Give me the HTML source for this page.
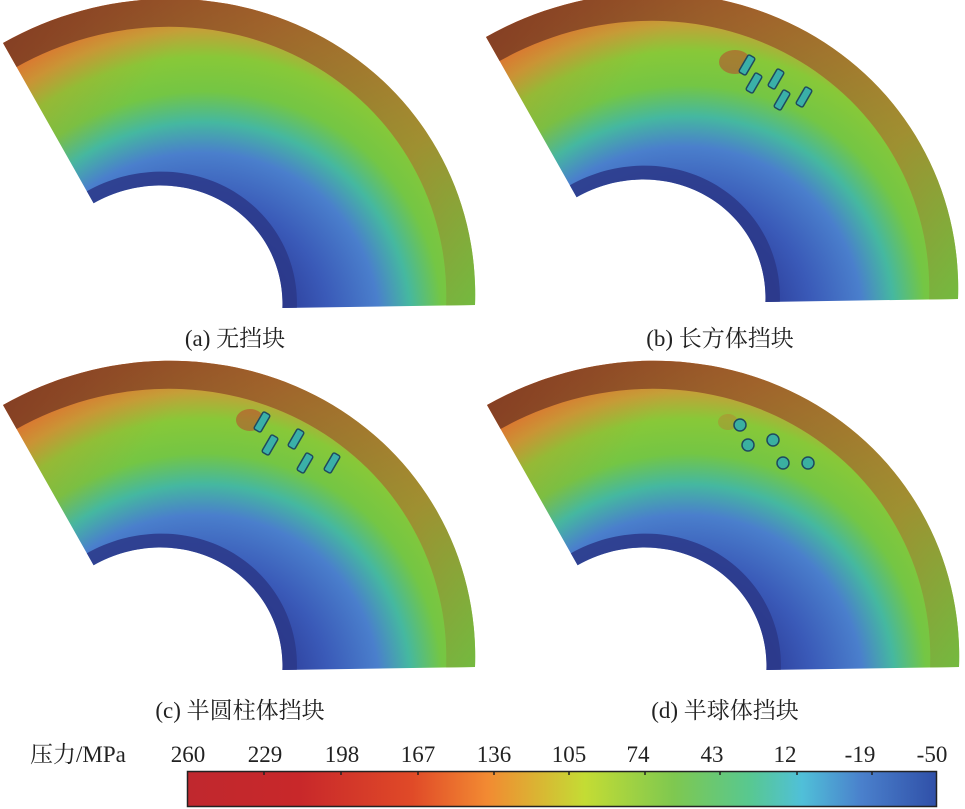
<!DOCTYPE html>
<html><head><meta charset="utf-8"><style>
body{margin:0;background:#fff;}
svg{display:block;}
text{font-family:"Liberation Serif","Noto Serif CJK SC",serif;fill:#222;}
</style></head><body>
<svg width="965" height="809" viewBox="0 0 965 809" xmlns="http://www.w3.org/2000/svg">
<defs>
<radialGradient id="rg" gradientUnits="userSpaceOnUse" cx="0.12" cy="0.08" r="1.1">
<stop offset="0.25" stop-color="#2c3c98"/>
<stop offset="0.39" stop-color="#3a5ab8"/>
<stop offset="0.53" stop-color="#4a7fcc"/>
<stop offset="0.62" stop-color="#45b8a0"/>
<stop offset="0.71" stop-color="#74c644"/>
<stop offset="0.81" stop-color="#88c838"/>
<stop offset="0.89" stop-color="#c4a038"/>
<stop offset="0.98" stop-color="#e07030"/>
</radialGradient>
<linearGradient id="lg" gradientUnits="userSpaceOnUse" x1="-0.6" y1="-0.9" x2="0.5" y2="-0.1">
<stop offset="0" stop-color="#e85a28" stop-opacity="0.35"/>
<stop offset="0.4" stop-color="#e85a28" stop-opacity="0"/>
</linearGradient>
<linearGradient id="band" gradientUnits="userSpaceOnUse" x1="-0.5" y1="-0.9" x2="1" y2="0">
<stop offset="0" stop-color="#7a3a22"/>
<stop offset="0.4" stop-color="#9a5e2a"/>
<stop offset="0.75" stop-color="#a08a30"/>
<stop offset="1" stop-color="#72b840"/>
</linearGradient>
<linearGradient id="cb" x1="0" y1="0" x2="1" y2="0">
<stop offset="0" stop-color="#c0282e"/>
<stop offset="0.15" stop-color="#c8282a"/>
<stop offset="0.3" stop-color="#e04a28"/>
<stop offset="0.4" stop-color="#f28a32"/>
<stop offset="0.53" stop-color="#c4dc34"/>
<stop offset="0.65" stop-color="#7ec850"/>
<stop offset="0.75" stop-color="#58c890"/>
<stop offset="0.82" stop-color="#50c0d8"/>
<stop offset="0.9" stop-color="#4a80cc"/>
<stop offset="1" stop-color="#3050a8"/>
</linearGradient>
<g id="panel" transform="matrix(321,-5,-10.97,311.2,154,310)">
<path d="M1,0 A1,1 0 0 0 -0.5,-0.866 L-0.2,-0.3464 A0.4,0.4 0 0 1 0.4,0 Z" fill="url(#rg)"/>
<path d="M1,0 A1,1 0 0 0 -0.5,-0.866 L-0.2,-0.3464 A0.4,0.4 0 0 1 0.4,0 Z" fill="url(#lg)"/>
<path d="M1,0 A1,1 0 0 0 -0.5,-0.866 L-0.455,-0.788 A0.91,0.91 0 0 1 0.91,0 Z" fill="url(#band)" opacity="0.9"/>
<path d="M0.445,0 A0.445,0.445 0 0 0 -0.2225,-0.385 L-0.2,-0.3464 A0.4,0.4 0 0 1 0.4,0 Z" fill="#2c3888" opacity="0.85"/>
</g>
<g id="blk"><rect x="-4" y="-10" width="8" height="20" rx="2" fill="#3ab0a8" stroke="#1e4a60" stroke-width="1.5" transform="rotate(30)"/></g>
</defs>
<use href="#panel"/>
<use href="#panel" transform="translate(483,-6)"/>
<use href="#panel" transform="translate(0,362)"/>
<use href="#panel" transform="translate(484,362)"/>
<ellipse cx="735" cy="62" rx="16" ry="12" fill="#c8282a" opacity="0.45"/>
<ellipse cx="250" cy="420" rx="14" ry="11" fill="#c8282a" opacity="0.45"/>
<ellipse cx="728" cy="422" rx="10" ry="8" fill="#d84a28" opacity="0.25"/>
<use href="#blk" transform="translate(747,65)"/>
<use href="#blk" transform="translate(754,83)"/>
<use href="#blk" transform="translate(776,79)"/>
<use href="#blk" transform="translate(782,100)"/>
<use href="#blk" transform="translate(804,97)"/>
<use href="#blk" transform="translate(262,422)"/>
<use href="#blk" transform="translate(270,445)"/>
<use href="#blk" transform="translate(296,439)"/>
<use href="#blk" transform="translate(305,463)"/>
<use href="#blk" transform="translate(332,463)"/>
<g fill="#3ab0a0" stroke="#1e4a60" stroke-width="1.5">
<circle cx="740" cy="425" r="6"/><circle cx="748" cy="445" r="6"/><circle cx="773" cy="440" r="6"/><circle cx="783" cy="463" r="6"/><circle cx="808" cy="463" r="6"/>
</g>
<text x="235" y="346" font-size="23" text-anchor="middle">(a) 无挡块</text>
<text x="720" y="346" font-size="23" text-anchor="middle">(b) 长方体挡块</text>
<text x="240" y="718" font-size="23" text-anchor="middle">(c) 半圆柱体挡块</text>
<text x="725" y="718" font-size="23" text-anchor="middle">(d) 半球体挡块</text>
<text x="30" y="762" font-size="23">压力/MPa</text>
<g font-size="23" text-anchor="middle">
<text x="188" y="762">260</text><text x="265" y="762">229</text><text x="342" y="762">198</text>
<text x="418" y="762">167</text><text x="494" y="762">136</text><text x="569" y="762">105</text>
<text x="638" y="762">74</text><text x="712" y="762">43</text><text x="785" y="762">12</text>
<text x="860" y="762">-19</text><text x="932" y="762">-50</text>
</g>
<rect x="187.5" y="771.5" width="749" height="35" fill="url(#cb)" stroke="#222" stroke-width="1.5"/>
<g stroke="#222" stroke-width="1.5">
<line x1="264" y1="771" x2="264" y2="775"/><line x1="341" y1="771" x2="341" y2="775"/><line x1="418" y1="771" x2="418" y2="775"/>
<line x1="494" y1="771" x2="494" y2="775"/><line x1="569" y1="771" x2="569" y2="775"/><line x1="645" y1="771" x2="645" y2="775"/>
<line x1="720" y1="771" x2="720" y2="775"/><line x1="797" y1="771" x2="797" y2="775"/><line x1="872" y1="771" x2="872" y2="775"/>
</g>
</svg>
</body></html>
